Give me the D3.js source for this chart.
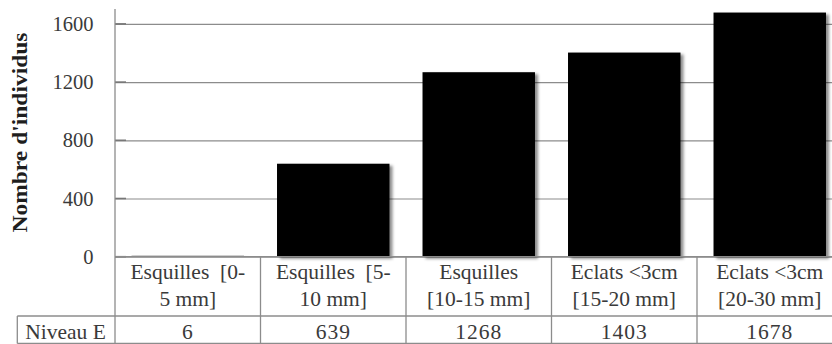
<!DOCTYPE html>
<html>
<head>
<meta charset="utf-8">
<script src="https://cdn.jsdelivr.net/npm/d3@7"></script>
<style>
  body { margin: 0; background: #fff; }
</style>
</head>
<body>
<svg id="chart" width="832" height="344"></svg>
<script>
// data
const categories = [
  ["Esquilles  [0-", "5 mm]"],
  ["Esquilles  [5-", "10 mm]"],
  ["Esquilles", "[10-15 mm]"],
  ["Eclats <3cm", "[15-20 mm]"],
  ["Eclats <3cm", "[20-30 mm]"]
];
const seriesName = "Niveau E";
const values = [6, 639, 1268, 1403, 1678];
const yTicks = [0, 400, 800, 1200, 1600];

const serif = "'Liberation Serif', 'DejaVu Serif', serif";

const svg = d3.select("#chart").attr("font-family", serif);

const plotLeft = 115,
  y0 = 256.7,
  catWidth = 145.5,
  rowTop = y0,
  rowMid = 316,
  rowBottom = 343.5,
  gridColor = "#8c8c8c",
  textColor = "#3a3a3a";

const x = d3
  .scaleBand()
  .domain(d3.range(categories.length))
  .range([plotLeft, plotLeft + catWidth * categories.length])
  .paddingInner(0.227)
  .paddingOuter(0.1135);

const y = d3.scaleLinear().domain([0, 1600]).range([y0, y0 - 1600 * 0.1455]);

// drop shadow like the office chart
const defs = svg.append("defs");
const f = defs
  .append("filter")
  .attr("id", "shadow")
  .attr("x", "-10%")
  .attr("y", "-10%")
  .attr("width", "130%")
  .attr("height", "130%");
f.append("feDropShadow")
  .attr("dx", 3)
  .attr("dy", 2)
  .attr("stdDeviation", 1.8)
  .attr("flood-color", "#000")
  .attr("flood-opacity", 0.45);

// gridlines + tick labels
const yAxis = d3
  .axisLeft(y)
  .tickValues(yTicks)
  .tickSize(-(832 - plotLeft))
  .tickFormat(d3.format("d"));

const gy = svg
  .append("g")
  .attr("transform", `translate(${plotLeft},0)`)
  .call(yAxis)
  .attr("font-family", serif)
  .attr("font-size", 20.5);
gy.select(".domain").remove();
gy.selectAll(".tick line")
  .attr("stroke", gridColor)
  .attr("stroke-width", 1.2);
gy.selectAll(".tick text")
  .attr("fill", textColor)
  .attr("x", -21.5);

// small inner ticks
svg
  .append("g")
  .selectAll("line")
  .data(yTicks)
  .join("line")
  .attr("x1", plotLeft)
  .attr("x2", plotLeft + 11)
  .attr("y1", (d) => y(d))
  .attr("y2", (d) => y(d))
  .attr("stroke", "#777")
  .attr("stroke-width", 1.6);

// bars
svg
  .append("g")
  .selectAll("rect")
  .data(values)
  .join("rect")
  .attr("x", (d, i) => x(i))
  .attr("y", (d) => y(d))
  .attr("width", x.bandwidth())
  .attr("height", (d) => y0 - y(d))
  .attr("fill", "#000")
  .attr("filter", "url(#shadow)");

// axis line and data table
const table = svg.append("g").attr("stroke", gridColor).attr("stroke-width", 1.3);
table.append("line").attr("x1", plotLeft).attr("x2", plotLeft).attr("y1", 9).attr("y2", rowBottom);
table.append("line").attr("x1", plotLeft).attr("x2", 832).attr("y1", rowTop).attr("y2", rowTop);
table.append("line").attr("x1", 17.3).attr("x2", 832).attr("y1", rowMid).attr("y2", rowMid);
table.append("line").attr("x1", 17.3).attr("x2", 832).attr("y1", rowBottom).attr("y2", rowBottom);
table.append("line").attr("x1", 17.3).attr("x2", 17.3).attr("y1", rowMid).attr("y2", rowBottom);
table
  .selectAll(".sep")
  .data(d3.range(1, categories.length + 1))
  .join("line")
  .attr("class", "sep")
  .attr("x1", (i) => plotLeft + i * catWidth)
  .attr("x2", (i) => plotLeft + i * catWidth)
  .attr("y1", rowTop)
  .attr("y2", rowBottom);

// category labels (two lines each)
const catText = svg
  .append("g")
  .selectAll("text")
  .data(categories)
  .join("text")
  .attr("text-anchor", "middle")
  .attr("fill", textColor)
  .attr("font-size", 21.5);
catText
  .selectAll("tspan")
  .data((d, i) => d.map((t) => ({ t, i })))
  .join("tspan")
  .attr("x", (d) => plotLeft + (d.i + 0.5) * catWidth)
  .attr("y", (d, j) => 279 + j * 26.5)
  .style("white-space", "pre")
  .text((d) => d.t);

// values row
svg
  .append("g")
  .selectAll("text")
  .data(values)
  .join("text")
  .attr("x", (d, i) => plotLeft + (i + 0.5) * catWidth)
  .attr("y", 339)
  .attr("text-anchor", "middle")
  .attr("fill", textColor)
  .attr("font-size", 21.5)
  .attr("letter-spacing", 1)
  .text((d) => d);

svg
  .append("text")
  .attr("x", 65.5)
  .attr("y", 339)
  .attr("text-anchor", "middle")
  .attr("fill", textColor)
  .attr("font-size", 21.5)
  .text(seriesName);

// y axis title
svg
  .append("text")
  .attr("transform", "translate(26.5,132.5) rotate(-90)")
  .attr("text-anchor", "middle")
  .attr("fill", "#1e1e1e")
  .attr("font-size", 20)
  .attr("font-weight", "bold")
  .attr("textLength", 200)
  .attr("lengthAdjust", "spacingAndGlyphs")
  .text("Nombre d'individus");
</script>
</body>
</html>
